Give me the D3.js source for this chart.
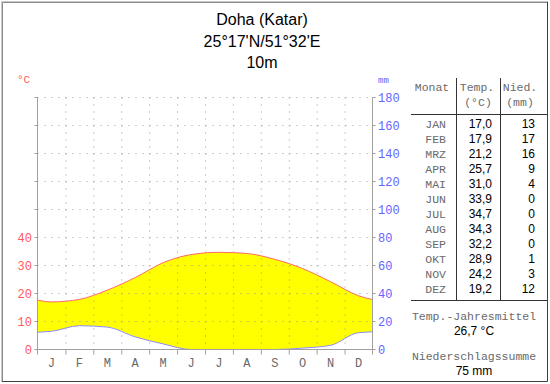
<!DOCTYPE html>
<html><head><meta charset="utf-8">
<script src="https://cdn.jsdelivr.net/npm/d3@7"></script>
<style>body{margin:0;background:#fff}svg{display:block}</style>
</head><body><svg id="c" width="550" height="384"></svg>
<script>
const months = ["JAN","FEB","MRZ","APR","MAI","JUN","JUL","AUG","SEP","OKT","NOV","DEZ"];
const monthLetters = ["J","F","M","A","M","J","J","A","S","O","N","D"];
const temps = [17.0,17.9,21.2,25.7,31.0,33.9,34.7,34.3,32.2,28.9,24.2,19.2];
const precip = [13,17,16,9,4,0,0,0,0,1,3,12];
const tempTicks = [0,10,20,30,40];
const precipTicks = [0,20,40,60,80,100,120,140,160,180];
const titleLines = ["Doha (Katar)","25°17'N/51°32'E","10m"];
const meanTemp = "26,7 °C";
const totalPrecip = "75 mm";

const svg = d3.select("#c");
const mono = "'Liberation Mono','DejaVu Sans Mono',monospace";
const sans = "'Liberation Sans',Arial,sans-serif";
const red = "#ff5a5a", blue = "#6464ff", grid = "#9a9a9a", monoGray = "#6a6a6a";

// frame
svg.append("rect").attr("x",1.5).attr("y",1.5).attr("width",546).attr("height",380).attr("fill","none").attr("stroke","#c8c8c8");
svg.append("path").attr("d","M2.5,381V2.5H547").attr("fill","none").attr("stroke","#8a8a8a");
svg.append("path").attr("d","M2,381.5H547.5V2").attr("fill","none").attr("stroke","#404040");

// titles
svg.selectAll("text.title").data(titleLines).join("text")
  .attr("x",262).attr("y",(d,i)=>25+i*21.5).attr("text-anchor","middle")
  .attr("font-family",sans).attr("font-size",16).attr("fill","#000").text(d=>d);

const x = d3.scaleLinear().domain([0,12]).range([37.5,372.5]);
const yT = d3.scaleLinear().domain([0,90]).range([349.5,97.5]);
const yP = d3.scaleLinear().domain([0,180]).range([349.5,97.5]);

// area data with wrap
const pts = [];
pts.push({m:-0.5,t:temps[11],p:precip[11]});
months.forEach((d,i)=>pts.push({m:i+0.5,t:temps[i],p:precip[i]}));
pts.push({m:12.5,t:temps[0],p:precip[0]});

svg.append("clipPath").attr("id","clip").append("rect")
  .attr("x",x(0)).attr("y",0).attr("width",x(12)-x(0)).attr("height",384);
const plot = svg.append("g").attr("clip-path","url(#clip)");
const curve = d3.curveMonotoneX;
plot.append("path").datum(pts)
  .attr("d",d3.area().x(d=>x(d.m)).y0(d=>yP(d.p)).y1(d=>yT(d.t)).curve(curve))
  .attr("fill","#ffff00");
plot.append("path").datum(pts)
  .attr("d",d3.line().x(d=>x(d.m)).y(d=>yP(d.p)).curve(curve))
  .attr("fill","none").attr("stroke","#8c8cff").attr("stroke-width",1);
plot.append("path").datum(pts)
  .attr("d",d3.line().x(d=>x(d.m)).y(d=>yT(d.t)).curve(curve))
  .attr("fill","none").attr("stroke","#ff6a6a").attr("stroke-width",1);

// dotted grid over fill
const g2 = svg.append("g");
d3.range(1,10).forEach(v=>{
  g2.append("line").attr("x1",x(0)).attr("x2",x(12)).attr("y1",yT(v*10)).attr("y2",yT(v*10))
   .attr("stroke",grid).attr("stroke-dasharray","1,6");
});
d3.range(1,12).forEach(m=>{
  g2.append("line").attr("x1",x(m)+0.5).attr("x2",x(m)+0.5).attr("y1",yT(90)).attr("y2",yT(0))
   .attr("stroke",grid).attr("stroke-dasharray","1,6");
});

// axes
const ax = svg.append("g").attr("stroke","#a0a0a0").attr("fill","none");
ax.append("line").attr("x1",x(0)).attr("x2",x(0)).attr("y1",yT(90)).attr("y2",yT(0)+5);
ax.append("line").attr("x1",x(12)).attr("x2",x(12)).attr("y1",yT(90)).attr("y2",yT(0)+5);
ax.append("line").attr("x1",x(0)).attr("x2",x(12)).attr("y1",yT(0)).attr("y2",yT(0));
d3.range(0,10).forEach(v=>{
  ax.append("line").attr("x1",x(0)-3).attr("x2",x(0)).attr("y1",yT(v*10)).attr("y2",yT(v*10));
  ax.append("line").attr("x1",x(12)).attr("x2",x(12)+3).attr("y1",yT(v*10)).attr("y2",yT(v*10));
});
d3.range(1,12).forEach(m=>{
  ax.append("line").attr("x1",x(m)+0.5).attr("x2",x(m)+0.5).attr("y1",yT(0)).attr("y2",yT(0)+5);
});

svg.selectAll("text.lt").data(tempTicks).join("text")
  .attr("x",32).attr("y",d=>yT(d)+4.5).attr("text-anchor","end")
  .attr("font-family",mono).attr("font-size",12).attr("fill",red).text(d=>d);
svg.selectAll("text.rt").data(precipTicks).join("text")
  .attr("x",378).attr("y",d=>yP(d)+4.5).attr("text-anchor","start")
  .attr("font-family",mono).attr("font-size",12).attr("fill",blue).text(d=>d);
svg.append("text").attr("x",17).attr("y",83).attr("font-family",mono).attr("font-size",11).attr("fill",red).text("°C");
svg.append("text").attr("x",378).attr("y",83).attr("font-family",mono).attr("font-size",9).attr("fill",blue).text("mm");

svg.selectAll("text.ml").data(monthLetters).join("text")
  .attr("x",(d,i)=>x(i+0.5)).attr("y",367).attr("text-anchor","middle")
  .attr("font-family",mono).attr("font-size",12).attr("fill",monoGray).text(d=>d);

// table
const tb = svg.append("g");
const tl = tb.append("g").attr("stroke","#333").attr("fill","none");
tl.append("line").attr("x1",456.5).attr("x2",456.5).attr("y1",78).attr("y2",300);
tl.append("line").attr("x1",500.5).attr("x2",500.5).attr("y1",78).attr("y2",300);
tl.append("line").attr("x1",411).attr("x2",547).attr("y1",114.5).attr("y2",114.5);
tl.append("line").attr("x1",411).attr("x2",547).attr("y1",300.5).attr("y2",300.5);
const hdr = (t,xx,yy)=>tb.append("text").attr("x",xx).attr("y",yy).attr("text-anchor","middle")
  .attr("font-family",mono).attr("font-size",11.5).attr("fill",monoGray).text(t);
hdr("Monat",432,91); hdr("Temp.",477,91); hdr("Nied.",520,91);
hdr("(°C)",478,106); hdr("(mm)",520,106);
tb.selectAll("text.mn").data(months).join("text")
  .attr("x",446).attr("y",(d,i)=>128+i*15).attr("text-anchor","end")
  .attr("font-family",mono).attr("font-size",11.5).attr("fill",monoGray).text(d=>d);
tb.selectAll("text.tv").data(temps).join("text")
  .attr("x",492).attr("y",(d,i)=>128+i*15).attr("text-anchor","end")
  .attr("font-family",sans).attr("font-size",12).attr("fill","#000").text(d=>d.toFixed(1).replace(".",","));
tb.selectAll("text.pv").data(precip).join("text")
  .attr("x",535).attr("y",(d,i)=>128+i*15).attr("text-anchor","end")
  .attr("font-family",sans).attr("font-size",12).attr("fill","#000").text(d=>d);
hdr("Temp.-Jahresmittel",474,320);
tb.append("text").attr("x",474).attr("y",335).attr("text-anchor","middle").attr("font-family",sans).attr("font-size",12).text(meanTemp);
hdr("Niederschlagssumme",474,360);
tb.append("text").attr("x",474).attr("y",375).attr("text-anchor","middle").attr("font-family",sans).attr("font-size",12).text(totalPrecip);
</script></body></html>
